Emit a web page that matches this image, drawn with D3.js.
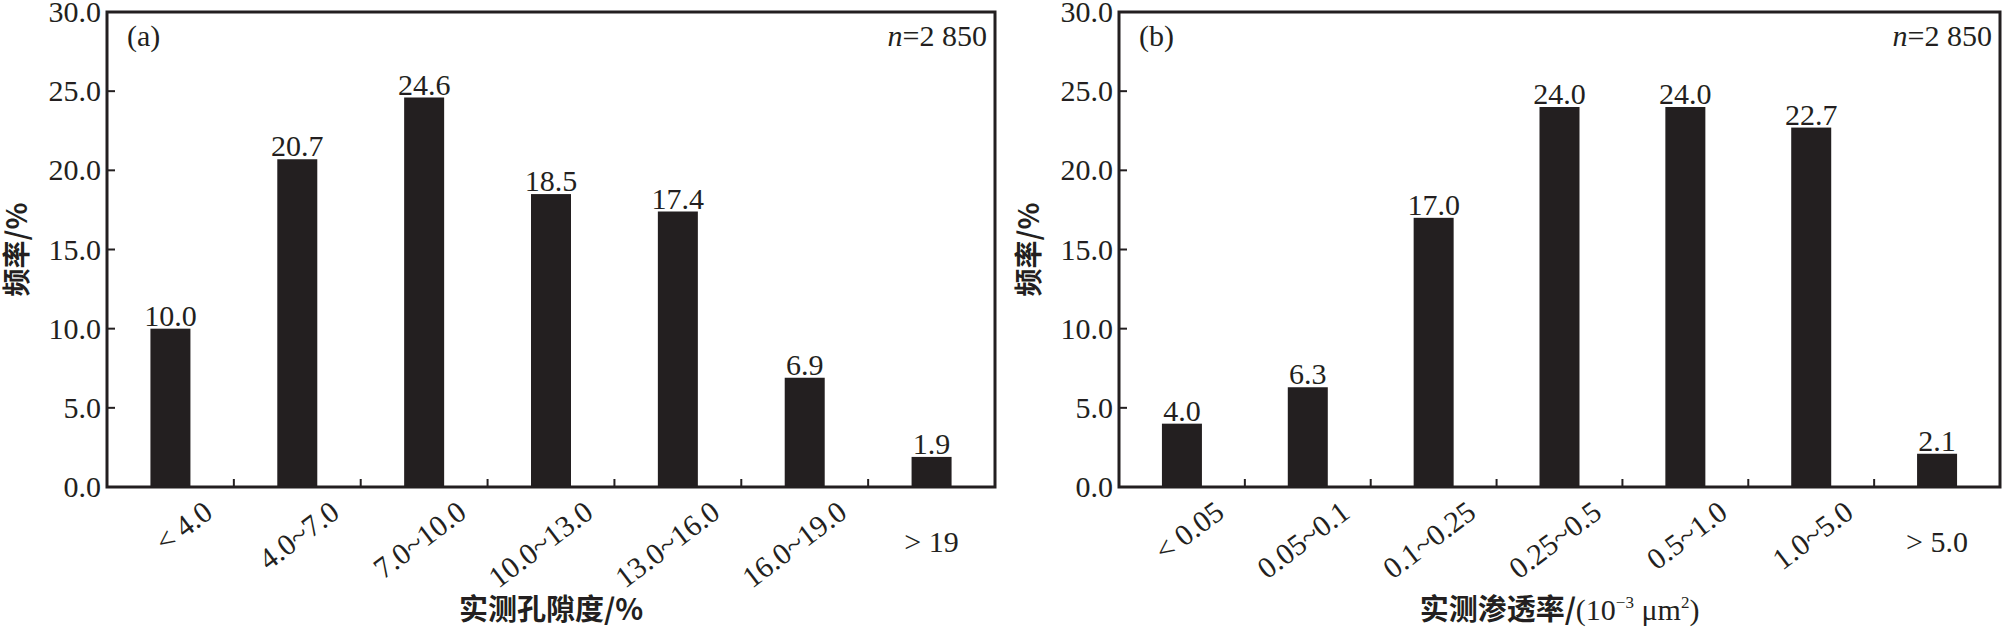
<!DOCTYPE html>
<html><head><meta charset="utf-8">
<script src="https://cdn.jsdelivr.net/npm/d3@7"></script>
<style>body{margin:0;background:#fff}text{font-family:"Liberation Serif","Times New Roman",serif;fill:#231f20}</style>
</head><body><svg id="c" width="2004" height="628"></svg>
<script>
let poroCats = ["< 4.0","4.0~7.0","7.0~10.0","10.0~13.0","13.0~16.0","16.0~19.0","> 19"];
let poroVals = [10.0,20.7,24.6,18.5,17.4,6.9,1.9];
let permCats = ["< 0.05","0.05~0.1","0.1~0.25","0.25~0.5","0.5~1.0","1.0~5.0","> 5.0"];
let permVals = [4.0,6.3,17.0,24.0,24.0,22.7,2.1];
let yTicks = [0,5,10,15,20,25,30];

let svg = d3.select("#c");

let drawPanel = (left, right, cats, vals, tag) => {
  let top = 12, bottom = 487;
  let x = d3.scaleBand().domain(cats).range([left, right]);
  let y = d3.scaleLinear().domain([0, 30]).range([bottom, top]);
  let g = svg.append("g");
  let bw = 40;

  g.selectAll("rect.bar").data(vals).enter().append("rect")
    .attr("x", (d, i) => x(cats[i]) + x.bandwidth() / 2 - bw / 2)
    .attr("y", d => y(d))
    .attr("width", bw)
    .attr("height", d => bottom - y(d))
    .attr("fill", "#231f20");

  g.selectAll("text.val").data(vals).enter().append("text")
    .attr("x", (d, i) => x(cats[i]) + x.bandwidth() / 2)
    .attr("y", d => y(d) - 3)
    .attr("text-anchor", "middle")
    .attr("font-size", 30)
    .text(d => d.toFixed(1));

  g.selectAll("line.yt").data(yTicks).enter().append("line")
    .attr("x1", left).attr("x2", left + 8)
    .attr("y1", d => y(d)).attr("y2", d => y(d))
    .attr("stroke", "#231f20").attr("stroke-width", 2);
  g.selectAll("text.yl").data(yTicks).enter().append("text")
    .attr("x", left - 6).attr("y", d => y(d) + 10)
    .attr("text-anchor", "end").attr("font-size", 30)
    .text(d => d.toFixed(1));

  g.selectAll("line.xt").data(cats.slice(1)).enter().append("line")
    .attr("x1", d => x(d)).attr("x2", d => x(d))
    .attr("y1", bottom).attr("y2", bottom - 8)
    .attr("stroke", "#231f20").attr("stroke-width", 2);

  g.append("rect").attr("x", left).attr("y", top)
    .attr("width", right - left).attr("height", bottom - top)
    .attr("fill", "none").attr("stroke", "#231f20").attr("stroke-width", 3);

  cats.forEach((c, i) => {
    let cx = x(c) + x.bandwidth() / 2;
    if (i == cats.length - 1) {
      g.append("text").attr("x", cx).attr("y", 552)
        .attr("text-anchor", "middle").attr("font-size", 30).text(c);
    } else {
      g.append("text").attr("text-anchor", "end").attr("font-size", 30)
        .attr("transform", "translate(" + (cx + 44) + ",516) rotate(-37)")
        .text(c);
    }
  });

  g.append("text").attr("x", left + 20).attr("y", 46).attr("font-size", 30).text(tag);
  let nt = g.append("text").attr("x", right - 8).attr("y", 46)
    .attr("text-anchor", "end").attr("font-size", 30);
  nt.append("tspan").attr("font-style", "italic").text("n");
  nt.append("tspan").text("=2 850");

  g.append("text")
    .attr("transform", "translate(" + (left - 80) + "," + ((top + bottom) / 2) + ") rotate(-90)")
    .attr("text-anchor", "middle").attr("font-size", 28).attr("font-weight", "bold")
    .style("font-family", "'Noto Sans CJK SC'").text("频率/%");

  return {g: g, cx: (left + right) / 2};
};

let a = drawPanel(107, 995, poroCats, poroVals, "(a)");
a.g.append("text").attr("x", a.cx).attr("y", 620).attr("text-anchor", "middle")
  .attr("font-size", 29).attr("font-weight", "bold")
  .style("font-family", "'Noto Sans CJK SC'").text("实测孔隙度/%");

let b = drawPanel(1119, 2000, permCats, permVals, "(b)");
let bt = b.g.append("text").attr("x", b.cx).attr("y", 620).attr("text-anchor", "middle")
  .attr("font-size", 30);
bt.append("tspan").attr("font-weight", "bold").attr("font-size", 29).style("font-family", "'Noto Sans CJK SC'").text("实测渗透率/");
bt.append("tspan").text("(10");
bt.append("tspan").attr("font-size", 17).attr("dy", -12).text("−3");
bt.append("tspan").attr("dy", 12).text(" μm");
bt.append("tspan").attr("font-size", 17).attr("dy", -12).text("2");
bt.append("tspan").attr("dy", 12).text(")");
</script></body></html>
